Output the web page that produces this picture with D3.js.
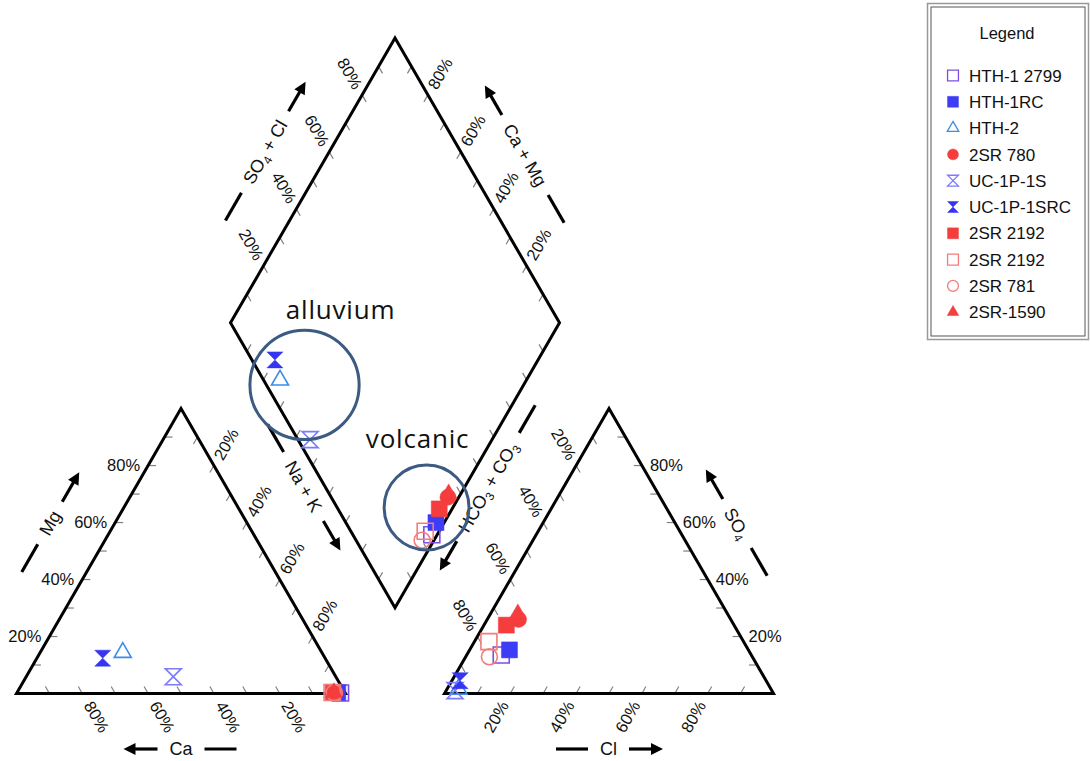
<!DOCTYPE html>
<html><head><meta charset="utf-8">
<script src="https://cdn.jsdelivr.net/npm/d3@7"></script>
<style>body{margin:0;background:#fff}svg{display:block}</style>
</head><body>
<svg id="chart" width="1090" height="761"></svg>
<script>
// ---------------- data ----------------
const samples = ["HTH-1 2799","HTH-1RC","HTH-2","2SR 780","UC-1P-1S","UC-1P-1SRC","2SR 2192","2SR 2192","2SR 781","2SR-1590"];
// cations, % meq
const caPct  = [1.4, 2.2, 60.5, 3.0, 49.4, 67.6, 3.5, 3.9, 3.3, 3.4];
const mgPct  = [0.2, 0.3, 14.4, 0.3,  5.9, 12.4, 0.4, 0.35, 0.3, 0.3];
const naKPct = [98.4, 97.5, 25.1, 96.7, 44.7, 20.0, 96.1, 95.75, 96.4, 96.3];
// anions, % meq
const so4Pct  = [13.5, 15.3, 1.5, 26.0, 1.0, 4.5, 24.0, 18.2, 12.9, 28.0];
const clPct   = [10.5, 12.1, 3.5,  9.5, 2.7, 2.5,  6.8,  4.4,  7.2,  8.3];
const hco3Pct = [76.0, 72.6, 95.0, 64.5, 96.3, 93.0, 69.2, 77.4, 79.9, 63.7];
// ticks
const tickValues = [10,20,30,40,50,60,70,80,90];
const labelValues = [20,40,60,80];
const tickLabels = ["20%","40%","60%","80%"];
// annotation groups (in diamond coordinates: Ca+Mg %, SO4+Cl %, radius %)
const groupNames = ["alluvium","volcanic"];
const groupCaMg  = [66.6, 8.0];
const groupSO4Cl = [11.6, 27.2];
const groupRadius = [16.6, 12.9];

// ---------------- styles ----------------
const seriesStyle = [
  {shape:"square",   filled:false, color:"#7d4fe3"},
  {shape:"square",   filled:true,  color:"#3d3df6"},
  {shape:"triangle", filled:false, color:"#3a8de6"},
  {shape:"circle",   filled:true,  color:"#f43d3d"},
  {shape:"bowtie",   filled:false, color:"#7c7cf8"},
  {shape:"bowtie",   filled:true,  color:"#3535f2"},
  {shape:"square",   filled:true,  color:"#f53d3d"},
  {shape:"square",   filled:false, color:"#f27d7d"},
  {shape:"circle",   filled:false, color:"#f27d7d"},
  {shape:"triangle", filled:true,  color:"#f53d3d"}
];
const FONT = "'Liberation Sans', Arial, sans-serif";

const svg = d3.select("#chart");
svg.append("rect").attr("width",1090).attr("height",761).attr("fill","#fff");

const L = 329, X0 = 16.5, BASE = 693.5, GAP = 99;
const S60 = Math.sqrt(3)/2;
const s = d3.scaleLinear().domain([0,100]).range([0,L]);
const X1 = X0 + L + GAP;
const B = [X0 + L + GAP/2, BASE - GAP*S60];

// triangle / diamond corners
const LT = {bl:[X0,BASE], br:[X0+L,BASE], ap:[X0+L/2, BASE-L*S60]};
const RT = {bl:[X1,BASE], br:[X1+L,BASE], ap:[X1+L/2, BASE-L*S60]};
const D  = {b:B, l:[B[0]-L/2, B[1]-L*S60], r:[B[0]+L/2, B[1]-L*S60], t:[B[0], B[1]-2*L*S60]};

const lerp = (p,q,v) => { const f = s(v)/L; return [p[0]+(q[0]-p[0])*f, p[1]+(q[1]-p[1])*f]; };

function catPos(i){ return [X0 + s(naKPct[i] + mgPct[i]/2), BASE - s(mgPct[i])*S60]; }
function anPos(i){ return [X1 + s(clPct[i] + so4Pct[i]/2), BASE - s(so4Pct[i])*S60]; }
function diaXY(a,b){ return [B[0] + (s(b)-s(a))/2, B[1] - (s(a)+s(b))*S60]; }
function diaPos(i){ return diaXY(caPct[i]+mgPct[i], so4Pct[i]+clPct[i]); }

const gTicks = svg.append("g");
const gFrame = svg.append("g");
const gLabels = svg.append("g").attr("font-family",FONT).attr("font-size",16.5).attr("fill","#111");

// frames
const line = d3.line();
gFrame.append("path").attr("d", line([LT.bl,LT.br,LT.ap])+"Z");
gFrame.append("path").attr("d", line([RT.bl,RT.br,RT.ap])+"Z");
gFrame.append("path").attr("d", line([D.b,D.r,D.t,D.l])+"Z");
gFrame.selectAll("path").attr("fill","none").attr("stroke","#000").attr("stroke-width",3).attr("stroke-linejoin","miter");

function ticks(p,q,dir){
  gTicks.selectAll(null).data(tickValues).enter().append("line")
    .each(function(v){
      const pt = lerp(p,q,v);
      d3.select(this).attr("x1",pt[0]).attr("y1",pt[1]).attr("x2",pt[0]+dir[0]*8).attr("y2",pt[1]+dir[1]*8);
    })
    .attr("stroke","#808080").attr("stroke-width",1.2);
}
function labels(p,q,off,angle,anchor){
  gLabels.selectAll(null).data(labelValues).enter().append("text")
    .attr("transform", v => { const pt = lerp(p,q,v); return `translate(${pt[0]+off[0]},${pt[1]+off[1]}) rotate(${angle})`; })
    .attr("text-anchor",anchor).attr("dy","0.35em")
    .text((v,i) => tickLabels[i]);
}

// left (cation) triangle
ticks(LT.br, LT.bl, [-0.5,-S60]);      // Ca
ticks(LT.bl, LT.ap, [1,0]);            // Mg
ticks(LT.ap, LT.br, [-0.5,S60]);       // Na+K
labels(LT.br, LT.bl, [6,9], 60, "start");
labels(LT.bl, LT.ap, [-8,0], 0, "end");
labels(LT.ap, LT.br, [4,-7], -60, "start");

// right (anion) triangle
ticks(RT.bl, RT.br, [0.5,-S60]);       // Cl
ticks(RT.br, RT.ap, [-1,0]);           // SO4
ticks(RT.ap, RT.bl, [0.5,S60]);        // HCO3+CO3
labels(RT.bl, RT.br, [-6,9], -60, "end");
labels(RT.br, RT.ap, [8,0], 0, "start");
labels(RT.ap, RT.bl, [-4,-7], 60, "end");

// diamond
ticks(D.l, D.t, [0.5,S60]);
ticks(D.r, D.t, [-0.5,S60]);
ticks(D.l, D.b, [0.5,-S60]);
ticks(D.r, D.b, [-0.5,-S60]);
labels(D.l, D.t, [-4,-7], 60, "end");
labels(D.r, D.t, [4,-7], -60, "start");

// axis titles with dash + arrow
function axisTitle(cx, cy, angle, parts, side){
  const g = svg.append("g").attr("transform",`translate(${cx},${cy}) rotate(${angle})`);
  const t = g.append("text").attr("text-anchor","middle").attr("dy","0.35em")
    .attr("font-family",FONT).attr("font-size",18).attr("fill","#111");
  parts.forEach(pp => {
    if (pp[1]) t.append("tspan").attr("font-size",12).attr("dy",4).text(pp[0]);
    else {
      const ts = t.append("tspan").text(pp[0]);
      if (pp[2]) ts.attr("dy",-4);
    }
  });
  const w = t.node().getComputedTextLength();
  const gap = 12, dashLen = 32, arrLen = 34;
  const e = w/2 + gap;
  g.append("line").attr("x1",-side*e).attr("x2",-side*(e+dashLen)).attr("y1",0).attr("y2",0)
    .attr("stroke","#000").attr("stroke-width",3.2);
  g.append("line").attr("x1",side*e).attr("x2",side*(e+arrLen-8)).attr("y1",0).attr("y2",0)
    .attr("stroke","#000").attr("stroke-width",3.2);
  const tip = side*(e+arrLen), bse = side*(e+arrLen-12);
  g.append("path").attr("d",`M${tip},0L${bse},-6L${bse},6Z`).attr("fill","#000");
}
axisTitle(50, 523, -60, [["Mg"]], 1);
axisTitle(181, 749, 0, [["Ca"]], -1);
axisTitle(303.5, 486.5, 60, [["Na + K"]], 1);
axisTitle(608.5, 749, 0, [["Cl"]], 1);
axisTitle(737, 523.5, 60, [["SO"],["4",true]], -1);
axisTitle(488, 487, -60, [["HCO"],["3",true],[" + CO",false,true],["3",true]], -1);
axisTitle(265, 152, -60, [["SO"],["4",true],[" + Cl",false,true]], 1);
axisTitle(525, 155, 60, [["Ca + Mg"]], -1);

// markers
function markerPath(shape, k){
  if (shape === "square") return d3.symbol(d3.symbolSquare, 256*k*k)();
  if (shape === "circle") return d3.symbol(d3.symbolCircle, 201*k*k)();
  if (shape === "triangle") return d3.symbol(d3.symbolTriangle, 125*k*k)();
  const w = 8*k, h = 8*k;
  return `M${-w},${-h}L${w},${-h}L${-w},${h}L${w},${h}Z`;
}
function drawMarkers(posFn){
  svg.append("g").selectAll("path").data(samples).enter().append("path")
    .attr("transform",(d,i) => { const p = posFn(i); return `translate(${p[0]},${p[1]})`; })
    .attr("d",(d,i) => markerPath(seriesStyle[i].shape, 1))
    .attr("fill",(d,i) => seriesStyle[i].filled ? seriesStyle[i].color : "none")
    .attr("stroke",(d,i) => seriesStyle[i].color)
    .attr("stroke-width",(d,i) => seriesStyle[i].filled ? 0.5 : 1.6);
}
drawMarkers(catPos);
drawMarkers(anPos);
drawMarkers(diaPos);

// annotation circles
const gAnno = svg.append("g");
groupNames.forEach((nm,i) => {
  const c = diaXY(groupCaMg[i], groupSO4Cl[i]);
  gAnno.append("circle").attr("cx",c[0]).attr("cy",c[1]).attr("r",s(groupRadius[i]))
    .attr("fill","none").attr("stroke","#3c5a82").attr("stroke-width",3);
});
{
  const c0 = diaXY(groupCaMg[0], groupSO4Cl[0]);
  const c1 = diaXY(groupCaMg[1], groupSO4Cl[1]);
  gAnno.append("text").attr("x",c0[0]+36).attr("y",c0[1]-66).attr("text-anchor","middle")
    .attr("font-family","'Open Sans', sans-serif").attr("font-size",26).attr("letter-spacing",0.8)
    .attr("fill","#111").text(groupNames[0]);
  gAnno.append("text").attr("x",c1[0]-9).attr("y",c1[1]-59).attr("text-anchor","middle")
    .attr("font-family","'Open Sans', sans-serif").attr("font-size",26).attr("letter-spacing",0.8)
    .attr("fill","#111").text(groupNames[1]);
}

// legend
const lg = svg.append("g");
lg.append("rect").attr("x",927.5).attr("y",3.5).attr("width",161).attr("height",336)
  .attr("fill","#fff").attr("stroke","#999").attr("stroke-width",1.5);
lg.append("rect").attr("x",931).attr("y",7).attr("width",154).attr("height",329)
  .attr("fill","none").attr("stroke","#555").attr("stroke-width",1);
lg.append("text").attr("x",1007).attr("y",39).attr("text-anchor","middle")
  .attr("font-family",FONT).attr("font-size",16.5).attr("fill","#111").text("Legend");
const items = lg.selectAll("g.item").data(samples).enter().append("g")
  .attr("transform",(d,i) => `translate(953,${75.5 + i*26.3})`);
items.append("path")
  .attr("d",(d,i) => markerPath(seriesStyle[i].shape, 0.68))
  .attr("fill",(d,i) => seriesStyle[i].filled ? seriesStyle[i].color : "none")
  .attr("stroke",(d,i) => seriesStyle[i].color)
  .attr("stroke-width",(d,i) => seriesStyle[i].filled ? 0.5 : 1.3);
items.append("text").attr("x",16).attr("dy","0.36em")
  .attr("font-family",FONT).attr("font-size",17).attr("fill","#111").text(d => d);
</script>
</body></html>
